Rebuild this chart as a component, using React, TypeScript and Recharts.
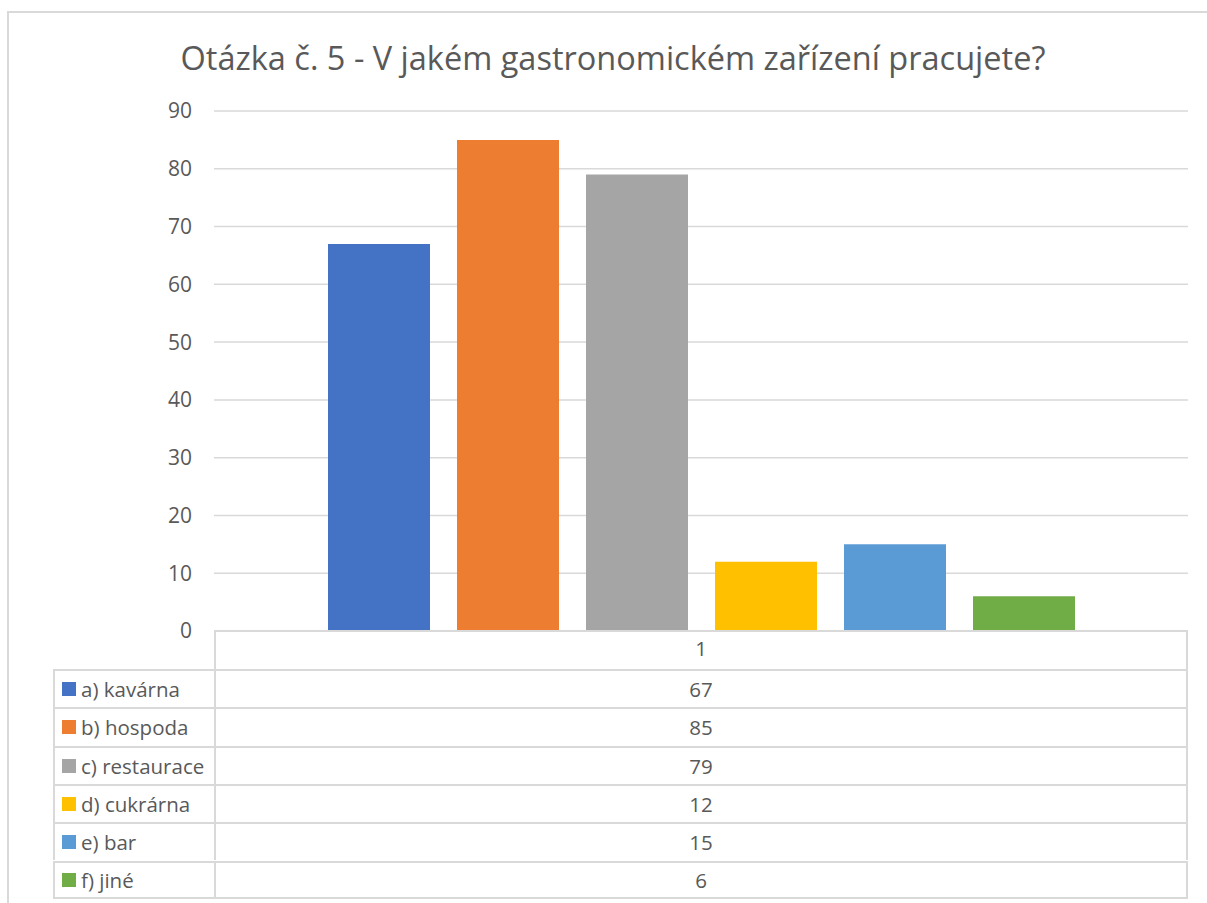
import React from 'react';
import { BarChart, Bar, XAxis, YAxis, CartesianGrid } from 'recharts';

const categories = ['1'];
const seriesNames = ['a) kavárna', 'b) hospoda', 'c) restaurace', 'd) cukrárna', 'e) bar', 'f) jiné'];
const seriesValues = [67, 85, 79, 12, 15, 6];
const seriesColors = ['#4472c4', '#ed7d31', '#a5a5a5', '#ffc000', '#5b9bd5', '#70ad47'];
const yTicks = [0, 10, 20, 30, 40, 50, 60, 70, 80, 90];

const title = 'Otázka č. 5 - V jakém gastronomickém zařízení pracujete?';

const data = categories.map((name) => {
  const row: Record<string, string | number> = { name };
  seriesNames.forEach((s, i) => {
    row[s] = seriesValues[i];
  });
  return row;
});

const FONT = '"Open Sans", sans-serif';
const TEXT = '#595959';
const LINE = '#d9d9d9';

// table geometry (matches the plot area)
const plotLeft = 214;
const plotRight = 1188;
const tableLeft = 53;
const rowTop = 669;
const rowH = 38.3;

const DataTable: React.FC = () => (
  <>
    {/* header row box under the axis */}
    <div
      style={{
        position: 'absolute', left: plotLeft, top: 631, width: plotRight - plotLeft,
        height: rowTop - 631, borderLeft: `2px solid ${LINE}`, borderRight: `2px solid ${LINE}`,
        boxSizing: 'border-box',
      }}
    />
    {seriesNames.map((s, i) => (
      <React.Fragment key={s}>
        <div
          style={{
            position: 'absolute', left: tableLeft, top: rowTop + i * rowH,
            width: plotLeft - tableLeft, height: rowH, boxSizing: 'border-box',
            borderTop: `2px solid ${LINE}`, borderLeft: `2px solid ${LINE}`,
            borderBottom: i === seriesNames.length - 1 ? `2px solid ${LINE}` : undefined,
            display: 'flex', alignItems: 'center', paddingLeft: 7,
            fontFamily: FONT, fontSize: 20.5, color: TEXT, whiteSpace: 'nowrap',
          }}
        >
          <span style={{ width: 14, height: 14, background: seriesColors[i], marginRight: 5, display: 'inline-block', flexShrink: 0 }} />
          {s}
        </div>
        <div
          style={{
            position: 'absolute', left: plotLeft, top: rowTop + i * rowH,
            width: plotRight - plotLeft, height: rowH, boxSizing: 'border-box',
            borderTop: `2px solid ${LINE}`, borderLeft: `2px solid ${LINE}`, borderRight: `2px solid ${LINE}`,
            borderBottom: i === seriesNames.length - 1 ? `2px solid ${LINE}` : undefined,
            display: 'flex', alignItems: 'center', justifyContent: 'center',
            fontFamily: FONT, fontSize: 20.5, color: TEXT,
          }}
        >
          {seriesValues[i]}
        </div>
      </React.Fragment>
    ))}
  </>
);

const App: React.FC = () => {
  return (
    <div style={{ position: 'absolute', left: 0, top: 0, width: 1207, height: 903, background: '#fff', overflow: 'hidden' }}>
      <div
        style={{
          position: 'absolute', left: 7, top: 11, width: 1240, height: 940,
          border: `2px solid ${LINE}`, boxSizing: 'border-box',
        }}
      />
      <div
        style={{
          position: 'absolute', left: 0, top: 36, width: 1226, textAlign: 'center',
          fontFamily: FONT, fontSize: 32.5, color: TEXT, lineHeight: '44px',
        }}
      >
        {title}
      </div>
      <div style={{ position: 'absolute', left: 0, top: 0 }}>
        <BarChart
          width={1207}
          height={903}
          data={data}
          margin={{ top: 111, right: 1207 - plotRight, left: 0, bottom: 903 - 631 - 38 }}
          barSize={102}
          barGap={27}
        >
          <CartesianGrid horizontal vertical={false} stroke={LINE} strokeWidth={1.5} />
          <XAxis
            dataKey="name"
            height={38}
            tickLine={false}
            tickSize={0}
            tickMargin={10}
            axisLine={{ stroke: LINE, strokeWidth: 2 }}
            tick={{ fill: TEXT, fontSize: 20.5, fontFamily: FONT }}
          />
          <YAxis
            width={plotLeft}
            domain={[0, 90]}
            ticks={yTicks}
            axisLine={false}
            tickLine={false}
            tickSize={0}
            tickMargin={22}
            tick={{ fill: TEXT, fontSize: 21, fontFamily: FONT }}
          />
          {seriesNames.map((s, i) => (
            <Bar key={s} dataKey={s} fill={seriesColors[i]} isAnimationActive={false} />
          ))}
        </BarChart>
      </div>
      <DataTable />
    </div>
  );
};

export default App;
